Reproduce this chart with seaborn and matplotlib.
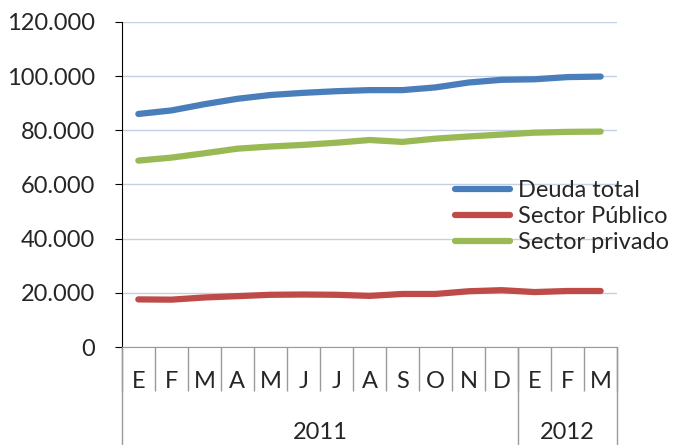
import matplotlib
matplotlib.use("Agg")
import matplotlib.pyplot as plt
import matplotlib.ticker as mticker
import seaborn as sns
import pandas as pd

months = ["E", "F", "M", "A", "M", "J", "J", "A", "S", "O", "N", "D", "E", "F", "M"]
years = ["2011", "2012"]
year_lengths = [12, 3]

deuda_total = [86.0, 87.3, 89.6, 91.6, 93.0, 93.8, 94.4, 94.8, 94.8, 95.8, 97.6, 98.6, 98.8, 99.6, 99.8]
sector_publico = [17.6, 17.5, 18.3, 18.8, 19.3, 19.4, 19.3, 18.9, 19.6, 19.6, 20.6, 21.0, 20.3, 20.7, 20.7]
sector_privado = [68.8, 69.9, 71.5, 73.2, 74.0, 74.6, 75.4, 76.4, 75.7, 76.9, 77.7, 78.4, 79.1, 79.4, 79.5]

series = {
    "Deuda total": deuda_total,
    "Sector Público": sector_publico,
    "Sector privado": sector_privado,
}
colors = ["#4A7EBB", "#BE4B48", "#98B954"]

rows = []
for name, vals in series.items():
    for i, v in enumerate(vals):
        rows.append({"pos": i, "valor": v * 1000, "serie": name})
df = pd.DataFrame(rows)

sns.set_style("white")
plt.rcParams["font.family"] = ["Lato", "DejaVu Sans"]
fs = 17

fig = plt.figure(figsize=(6.73, 4.45), dpi=100)
ax = fig.add_axes([0.181, 0.22, 0.736, 0.731])

sns.lineplot(data=df, x="pos", y="valor", hue="serie", palette=colors,
             linewidth=4.5, ax=ax, sort=False, legend=True)

ax.set_xlim(-0.5, len(months) - 0.5)
ax.set_ylim(0, 120000)
ax.set_yticks(range(0, 120001, 20000))
ax.yaxis.set_major_formatter(mticker.FuncFormatter(lambda v, p: f"{int(v):,}".replace(",", ".")))
ax.grid(axis="y", color="#C3CFE2", linewidth=1)
ax.set_axisbelow(True)
ax.set_xlabel("")
ax.set_ylabel("")

for s in ["top", "right"]:
    ax.spines[s].set_visible(False)
ax.spines["left"].set_color("black")
ax.spines["bottom"].set_color("#9A9A9A")

ax.tick_params(axis="y", left=True, length=5, color="black", labelsize=fs, pad=14)

# month labels with separators
ax.set_xticks(range(len(months)))
ax.set_xticklabels(months)
ax.set_xticks([i - 0.5 for i in range(len(months) + 1)], minor=True)
ax.tick_params(axis="x", which="major", length=0, labelsize=fs, pad=17)
ax.tick_params(axis="x", which="minor", length=32, color="#9A9A9A", width=1, bottom=True)

# year labels and separators
trans = ax.get_xaxis_transform()
start = 0
bounds = [-0.5]
for yr, n in zip(years, year_lengths):
    ax.text(start + (n - 1) / 2, -0.262, yr, transform=trans, ha="center", va="center", fontsize=fs)
    start += n
    bounds.append(start - 0.5)
ax.vlines(bounds, -0.31, 0, transform=trans, colors="#9A9A9A", linewidth=1, clip_on=False)

leg = ax.legend(loc="center left", bbox_to_anchor=(0.676, 0.513), bbox_transform=fig.transFigure,
                frameon=False, fontsize=fs, handlelength=2.35, handletextpad=0.3,
                labelspacing=0.22, borderaxespad=0, borderpad=0)
for line in leg.get_lines():
    line.set_linewidth(4.5)

fig.savefig("out.png", dpi=100)
